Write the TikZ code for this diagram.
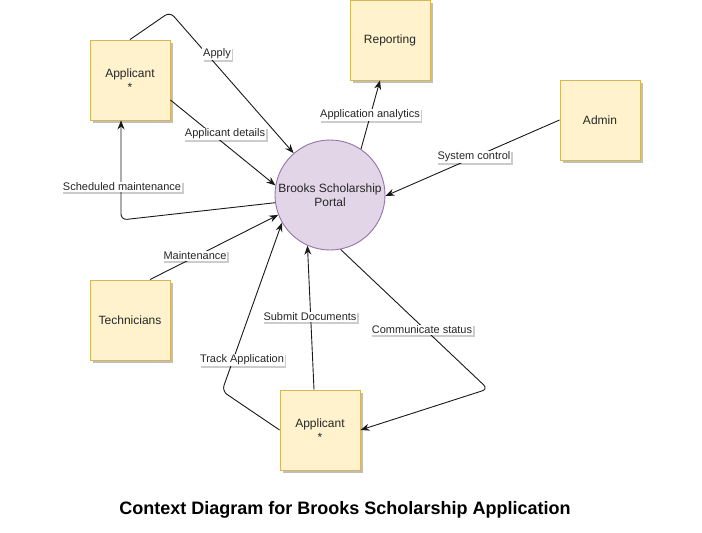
\documentclass[tikz,border=0pt]{standalone}
\usepackage{fontspec}
\setmainfont{Liberation Sans}
\usetikzlibrary{shadows,arrows.meta}
\definecolor{boxfill}{HTML}{FFF2CC}
\definecolor{boxdraw}{HTML}{D6B656}
\definecolor{circfill}{HTML}{E1D5E7}
\definecolor{circdraw}{HTML}{9673A6}
\tikzset{
  entity/.style={draw=boxdraw, fill=boxfill, line width=0.9pt, minimum width=80pt, minimum height=80pt, inner sep=0pt, align=center, font=\fontsize{12}{14}\selectfont, text=black!85,
    drop shadow={shadow xshift=3pt, shadow yshift=-3pt, fill=black, opacity=0.25}},
  proc/.style={circle, draw=circdraw, fill=circfill, line width=0.9pt, minimum size=110pt, inner sep=0pt, align=center, font=\fontsize{12}{14}\selectfont, text=black!85},
  flow/.style={draw=black!90, line width=0.9pt, -{Stealth[length=9pt,width=7pt]}, rounded corners=6pt},
  lbl/.style={fill=white, inner sep=1pt, font=\fontsize{11}{13}\selectfont, text=black!85,
    drop shadow={shadow xshift=1.5pt, shadow yshift=-1.5pt, fill=black, opacity=0.2}},
}
\begin{document}
\begin{tikzpicture}[x=1pt,y=-1pt]
\useasboundingbox (0,0) rectangle (702,533);
\fill[white] (0,0) rectangle (702,533);

\node[entity] (app1) at (130,80) {Applicant\\*};
\node[entity] (rep) at (390,40) {Reporting};
\node[entity] (admin) at (600,120) {Admin};
\node[entity] (tech) at (130,320) {Technicians};
\node[entity] (app2) at (320,430) {Applicant\\*};
\node[proc] (portal) at (330,195) {Brooks Scholarship\\Portal};

\coordinate (c1) at (170,12);
\coordinate (c2) at (121,220);
\coordinate (c3) at (222,391);
\coordinate (c4) at (488,389);

% Apply
\draw[flow] (app1.north) -- (c1) -- (portal.131);
\node[lbl] (l1) at (217,54) {Apply};
% Applicant details
\draw[flow] (app1.east |- 0,100) -- (portal.170);
\node[lbl] (l2) at (225,134) {Applicant details};
% Scheduled maintenance
\draw[flow] (portal.188) -- (c2) -- (app1.south -| c2);
\node[lbl] (l3) at (122,187) {Scheduled maintenance};
% Maintenance
\draw[flow] (tech.north -| 150,0) -- (portal.201);
\node[lbl] (l4) at (195,256) {Maintenance};
% Track Application
\draw[flow] (app2.west) -- (c3) -- (portal.210);
\node[lbl] (l5) at (242,360) {Track Application};
% Submit Documents
\draw[flow] (app2.north -| 314,0) -- (portal.246);
\node[lbl] (l6) at (310,317) {Submit Documents};
% Communicate status
\draw[flow] (portal.281) -- (c4) -- (app2.east);
\node[lbl] (l7) at (422,330) {Communicate status};
% Application analytics
\draw[flow] (portal.56) -- (rep.south -| 380,0);
\node[lbl] (l8) at (370,115) {Application analytics};
% System control
\draw[flow] (admin.west) -- (portal.359);
\node[lbl] (l9) at (474,157) {System control};

\node[font=\fontsize{18}{21}\selectfont\bfseries] (title) at (345,510) {Context Diagram for Brooks Scholarship Application};
\end{tikzpicture}
\end{document}
